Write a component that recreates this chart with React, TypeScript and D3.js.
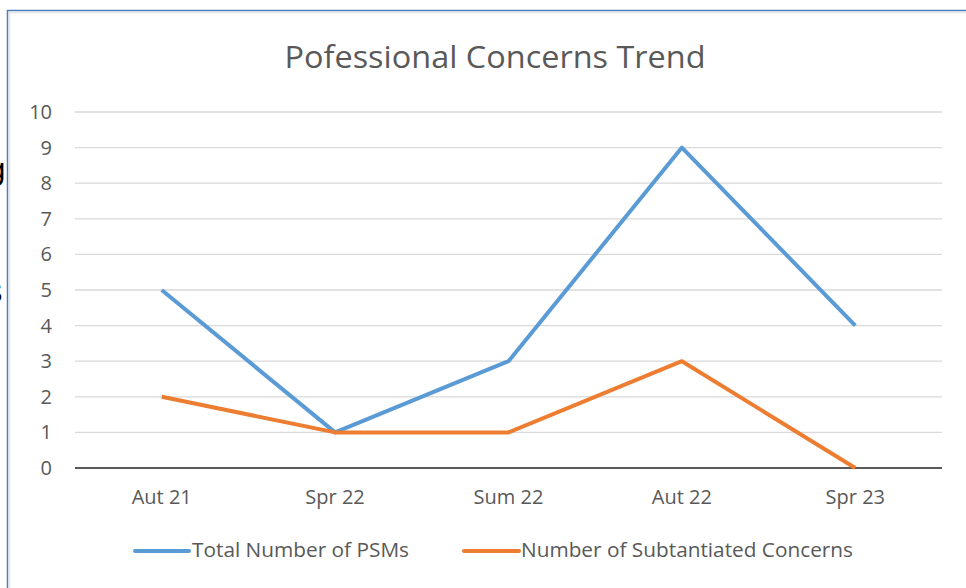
import React from "react";
import * as d3 from "d3";

const categories = ["Aut 21", "Spr 22", "Sum 22", "Aut 22", "Spr 23"];
const totalPSMs = [5, 1, 3, 9, 4];
const substantiated = [2, 1, 1, 3, 0];
const yTicks = [0, 1, 2, 3, 4, 5, 6, 7, 8, 9, 10];
const seriesNames = ["Total Number of PSMs", "Number of Subtantiated Concerns"];
const colors = ["#5b9bd5", "#ed7d31"];

const W = 966, H = 588;
const left = 75, right = 942, top = 112, bottom = 468;

export default function App() {
  const x = d3.scalePoint<string>().domain(categories).range([left, right]).padding(0.5);
  const y = d3.scaleLinear().domain([0, 10]).range([bottom, top]);
  const line = d3.line<number>().x((_, i) => x(categories[i])!).y((d) => y(d));
  const font = "'Open Sans', 'Noto Sans', sans-serif";
  return (
    <svg width={W} height={H} style={{ position: "absolute", left: 0, top: 0, background: "#fff" }} fontFamily={font}>
      <rect x={0} y={0} width={W} height={H} fill="#fff" />
      {/* background fragments */}
      <text x={-13} y={180} fontSize={30} fill="#000" fontFamily="'DejaVu Sans', sans-serif">g</text>
      <text x={-13} y={302} fontSize={30} fill="#000" fontFamily="'DejaVu Sans', sans-serif">s</text>
      {/* frame */}
      <rect x={7} y={10} width={W} height={H} fill="#fff" />
      <line x1={7} x2={W} y1={10.5} y2={10.5} stroke="#4a7ebb" strokeWidth={1.5} />
      <line x1={7.5} x2={7.5} y1={10} y2={H} stroke="#4a7ebb" strokeWidth={1.5} />
      <line x1={9} x2={W} y1={12.5} y2={12.5} stroke="#e6e6e6" strokeWidth={1.5} />
      <line x1={9.5} x2={9.5} y1={12} y2={H} stroke="#e6e6e6" strokeWidth={1.5} />
      <text x={495} y={68} textAnchor="middle" fontSize={31} fill="#595959" textLength={421} lengthAdjust="spacingAndGlyphs">Pofessional Concerns Trend</text>
      {yTicks.map((t) => (
        <g key={t}>
          {t > 0 && <line x1={left} x2={right} y1={y(t)} y2={y(t)} stroke="#d9d9d9" strokeWidth={1.3} />}
          <text x={52} y={y(t) + 7} textAnchor="end" fontSize={20} fill="#595959">{t}</text>
        </g>
      ))}
      <line x1={left} x2={right} y1={bottom} y2={bottom} stroke="#222" strokeWidth={1.5} />
      {categories.map((c) => (
        <text key={c} x={x(c)} y={504} textAnchor="middle" fontSize={20} fill="#595959">{c}</text>
      ))}
      {[totalPSMs, substantiated].map((s, i) => (
        <path key={i} d={line(s)!} fill="none" stroke={colors[i]} strokeWidth={4} strokeLinejoin="round" />
      ))}
      {[{ x1: 135, x2: 189, tx: 192, w: 217 }, { x1: 464, x2: 519, tx: 521, w: 332 }].map((l, i) => (
        <g key={i}>
          <line x1={l.x1} x2={l.x2} y1={551} y2={551} stroke={colors[i]} strokeWidth={4} strokeLinecap="round" />
          <text x={l.tx} y={557} fontSize={20} fill="#595959" textLength={l.w} lengthAdjust="spacingAndGlyphs">{seriesNames[i]}</text>
        </g>
      ))}
    </svg>
  );
}
